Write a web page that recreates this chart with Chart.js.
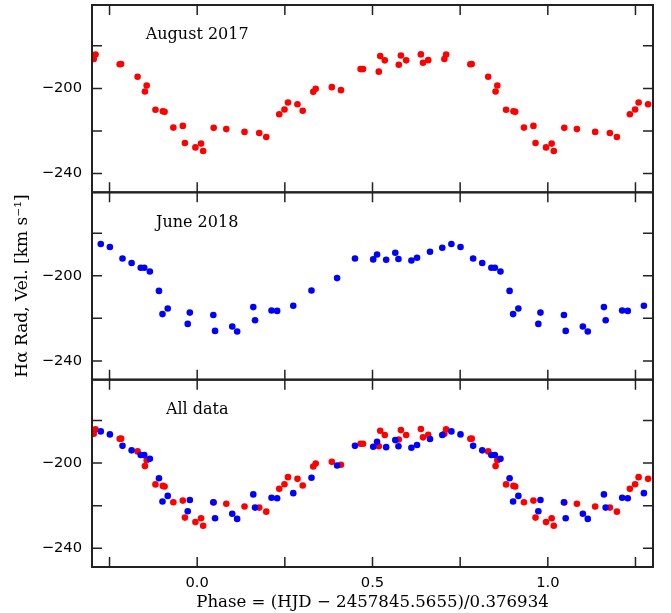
<!DOCTYPE html>
<html>
<head>
<meta charset="utf-8">
<script src="https://cdn.jsdelivr.net/npm/chart.js@4.4.1/dist/chart.umd.min.js"></script>
<style>
html,body{margin:0;padding:0;background:#fff;}
#wrap{position:relative;width:671px;height:613px;}
</style>
</head>
<body>
<div id="wrap"><canvas id="c" width="671" height="613"></canvas></div>
<script>
// ---- data (one cycle of phase, folded copies are plotted over -0.3..1.3) ----
const aug2017Phase = [0.011,0.017,0.047,0.083,0.135,0.177,0.197,0.234,0.249,0.259,0.286,0.301,0.331,0.338,0.384,0.410,0.466,0.473,0.518,0.522,0.535,0.575,0.581,0.596,0.638,0.644,0.659,0.705,0.710,0.779,0.783,0.830,0.851,0.856,0.881,0.902,0.907,0.932,0.959,0.965,0.995];
const aug2017Vel   = [-225.9,-229.4,-218.5,-219.1,-220.4,-220.9,-222.8,-212.1,-209.9,-206.6,-207.4,-210.5,-201.6,-200.2,-199.4,-200.8,-190.9,-190.9,-192.1,-184.8,-186.8,-188.9,-184.5,-186.8,-184.0,-187.9,-186.7,-186.2,-184.1,-188.6,-188.5,-194.5,-201.4,-198.6,-210.0,-210.7,-211.0,-218.4,-217.6,-225.6,-227.7];
const jun2018Phase = [0.046,0.051,0.100,0.114,0.160,0.165,0.212,0.228,0.274,0.326,0.399,0.450,0.502,0.513,0.539,0.565,0.574,0.611,0.627,0.664,0.699,0.725,0.751,0.787,0.813,0.839,0.849,0.865,0.891,0.901,0.916,0.973,0.979];
const jun2018Vel   = [-218.4,-225.9,-223.8,-226.2,-214.7,-220.9,-216.3,-216.5,-214.1,-206.9,-201.1,-191.9,-192.3,-190.0,-192.5,-189.2,-192.1,-192.8,-191.5,-188.7,-186.8,-185.1,-186.5,-191.9,-194.0,-196.2,-196.2,-198.0,-207.1,-218.0,-215.4,-222.6,-217.3];
const panelLabels = ['August 2017','June 2018','All data'];
const xTickValues = [0.0, 0.5, 1.0];
const xTickLabels = ['0.0','0.5','1.0'];
const yTickValues = [-200, -240];
const yTickLabels = ['\u2212200','\u2212240'];
const xTitle = 'Phase = (HJD \u2212 2457845.5655)/0.376934';
const yTitle = 'H\u03b1 Rad, Vel. [km s\u207b\u00b9]';
const PHASE_MIN = -0.3, PHASE_MAX = 1.3;
const VEL_MIN = -248.8, VEL_MAX = -160.8;

function fold(ph, v) {
  const pts = [];
  for (let i = 0; i < ph.length; i++) {
    for (const k of [-1, 0, 1]) {
      const p = ph[i] + k;
      if (p >= PHASE_MIN && p <= PHASE_MAX) pts.push({x: p, y: v[i]});
    }
  }
  return pts;
}
const augPts = fold(aug2017Phase, aug2017Vel);
const junPts = fold(jun2018Phase, jun2018Vel);

const RED = '#ff0000', BLUE = '#0000ff';
function ds(data, color, axis) {
  return {data, yAxisID: axis, xAxisID: 'x', showLine: false,
    pointRadius: 3.3, pointHoverRadius: 3.3, pointBorderWidth: 0,
    pointBackgroundColor: color, pointBorderColor: color, backgroundColor: color};
}

function labelFor(values, labels) {
  return function(v) {
    for (let i = 0; i < values.length; i++) if (Math.abs(v - values[i]) < 1e-6) return labels[i];
    return '';
  };
}

const tickFont = {family: 'DejaVu Sans', size: 14.7};
const titleFont = {family: 'DejaVu Serif', size: 16.6};

function yAxis(withTitle) {
  return {
    type: 'linear', position: 'left', stack: 'panels', stackWeight: 1,
    min: VEL_MIN, max: VEL_MAX,
    ticks: {stepSize: 20, includeBounds: false, autoSkip: false, padding: 10, color: '#000', font: tickFont,
      callback: labelFor(yTickValues, yTickLabels)},
    grid: {display: false, drawTicks: false},
    border: {display: false},
    title: {display: withTitle, text: yTitle, color: '#000', font: {family: 'DejaVu Serif', size: 17}, padding: {top: 12, bottom: 0}},
    afterFit: s => { s.width = 92; s.paddingTop = 0; s.paddingBottom = 0; }
  };
}

const panelAxes = ['yTop', 'yMid', 'yBot'];

const framePlugin = {
  id: 'frames',
  afterDatasetsDraw(chart) {
    const ctx = chart.ctx, ca = chart.chartArea, xs = chart.scales.x;
    ctx.save();
    panelAxes.forEach((id, i) => {
      const ys = chart.scales[id];
      ctx.strokeStyle = '#222';
      ctx.lineWidth = 2;
      ctx.strokeRect(ca.left, ys.top, ca.right - ca.left, ys.bottom - ys.top);
      ctx.lineWidth = 1.5;
      ctx.beginPath();
      xs.ticks.forEach(t => {
        const px = xs.getPixelForValue(t.value);
        ctx.moveTo(px, ys.top); ctx.lineTo(px, ys.top + 10);
        ctx.moveTo(px, ys.bottom); ctx.lineTo(px, ys.bottom - 10);
      });
      ys.ticks.forEach(t => {
        const py = ys.getPixelForValue(t.value);
        ctx.moveTo(ca.left, py); ctx.lineTo(ca.left + 10, py);
        ctx.moveTo(ca.right, py); ctx.lineTo(ca.right - 10, py);
      });
      ctx.stroke();
      ctx.fillStyle = '#000';
      ctx.font = '16px "DejaVu Serif"';
      ctx.textAlign = 'center';
      ctx.textBaseline = 'middle';
      ctx.fillText(panelLabels[i], xs.getPixelForValue(0.0), ys.getPixelForValue(-175));
    });
    ctx.restore();
  }
};

new Chart(document.getElementById('c'), {
  type: 'scatter',
  data: {datasets: [
    ds(junPts, BLUE, 'yBot'),
    ds(augPts, RED, 'yBot'),
    ds(junPts, BLUE, 'yMid'),
    ds(augPts, RED, 'yTop')
  ]},
  options: {
    responsive: false, animation: false, devicePixelRatio: 1,
    layout: {padding: {left: 0, right: 18, top: 5, bottom: 0}},
    plugins: {legend: {display: false}, tooltip: {enabled: false}},
    scales: {
      x: {type: 'linear', position: 'bottom', min: PHASE_MIN, max: PHASE_MAX,
        ticks: {stepSize: 0.25, includeBounds: false, autoSkip: false, maxRotation: 0, padding: 7, color: '#000', font: tickFont,
          callback: labelFor(xTickValues, xTickLabels)},
        grid: {display: false, drawTicks: false},
        border: {display: false},
        title: {display: true, text: xTitle, color: '#000', font: titleFont, padding: {top: 0, bottom: 0}},
        afterFit: s => { s.height = 46; s.paddingLeft = 0; s.paddingRight = 0; }
      },
      yBot: yAxis(false),
      yMid: yAxis(true),
      yTop: yAxis(false)
    }
  },
  plugins: [framePlugin]
});
</script>
</body>
</html>
